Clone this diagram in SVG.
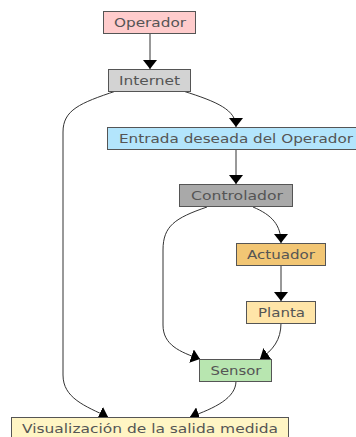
<svg xmlns="http://www.w3.org/2000/svg" width="356" height="437" viewBox="0 0 356 437">
<defs>
<style>
.box{stroke:#555;stroke-width:1}
.lbl{font-family:"DejaVu Sans",sans-serif;font-size:12px;fill:#555;text-anchor:middle}
.edge{fill:none;stroke:#333;stroke-width:1}
</style>
<marker id="arr" markerUnits="userSpaceOnUse" markerWidth="10" markerHeight="14" refX="9" refY="7" orient="auto" viewBox="0 0 10 14">
<path d="M0,0 L9,7 L0,14 Z" fill="#000"/>
</marker>
</defs>
<rect width="356" height="437" fill="#fff"/>
<g id="connectors">
<path class="edge" d="M150,33 L150,69" marker-end="url(#arr)"/>
<path class="edge" d="M183,91 C218,102 236,110 236,127" marker-end="url(#arr)"/>
<path class="edge" d="M116,91 C80,103 63,110 63,132 L63,375 C63,398 85,406 108,417" marker-end="url(#arr)"/>
<path class="edge" d="M236,150 L236,184" marker-end="url(#arr)"/>
<path class="edge" d="M253,207 C272,215 281,225 281,243" marker-end="url(#arr)"/>
<path class="edge" d="M207,207 C175,218 163,226 163,250 L163,325 C163,345 180,352 200,359" marker-end="url(#arr)"/>
<path class="edge" d="M281,265 L281,301" marker-end="url(#arr)"/>
<path class="edge" d="M281,323 C281,340 273,350 260,359" marker-end="url(#arr)"/>
<path class="edge" d="M236,381 C236,398 215,408 190,417" marker-end="url(#arr)"/>
</g>
<g id="operador"><rect class="box" x="103.5" y="11.5" width="92" height="22" fill="#ffcccc"/><text class="lbl" x="150" y="26.5" textLength="72" lengthAdjust="spacingAndGlyphs">Operador</text></g>
<g id="internet"><rect class="box" x="108.5" y="69.5" width="82" height="22" fill="#d3d3d3"/><text class="lbl" x="149.5" y="84.5" textLength="61" lengthAdjust="spacingAndGlyphs">Internet</text></g>
<g id="entrada"><rect class="box" x="107.5" y="127.5" width="252" height="22" fill="#b3e5fc"/><text class="lbl" x="236" y="142.5" textLength="234" lengthAdjust="spacingAndGlyphs">Entrada deseada del Operador</text></g>
<g id="controlador"><rect class="box" x="179.5" y="184.5" width="113" height="22" fill="#a9a9a9"/><text class="lbl" x="237" y="199.5" textLength="92" lengthAdjust="spacingAndGlyphs">Controlador</text></g>
<g id="actuador"><rect class="box" x="236.5" y="243.5" width="89" height="22" fill="#f2c674"/><text class="lbl" x="281" y="258.5" textLength="68" lengthAdjust="spacingAndGlyphs">Actuador</text></g>
<g id="planta"><rect class="box" x="246.5" y="301.5" width="69" height="22" fill="#ffe5a8"/><text class="lbl" x="281.5" y="316.5" textLength="47" lengthAdjust="spacingAndGlyphs">Planta</text></g>
<g id="sensor"><rect class="box" x="199.5" y="359.5" width="72" height="22" fill="#b8e6b0"/><text class="lbl" x="236" y="374.5" textLength="51" lengthAdjust="spacingAndGlyphs">Sensor</text></g>
<g id="visualizacion"><rect class="box" x="11.5" y="417.5" width="277" height="22" fill="#fff5c4"/><text class="lbl" x="150" y="432.5" textLength="256" lengthAdjust="spacingAndGlyphs">Visualización de la salida medida</text></g>
</svg>
